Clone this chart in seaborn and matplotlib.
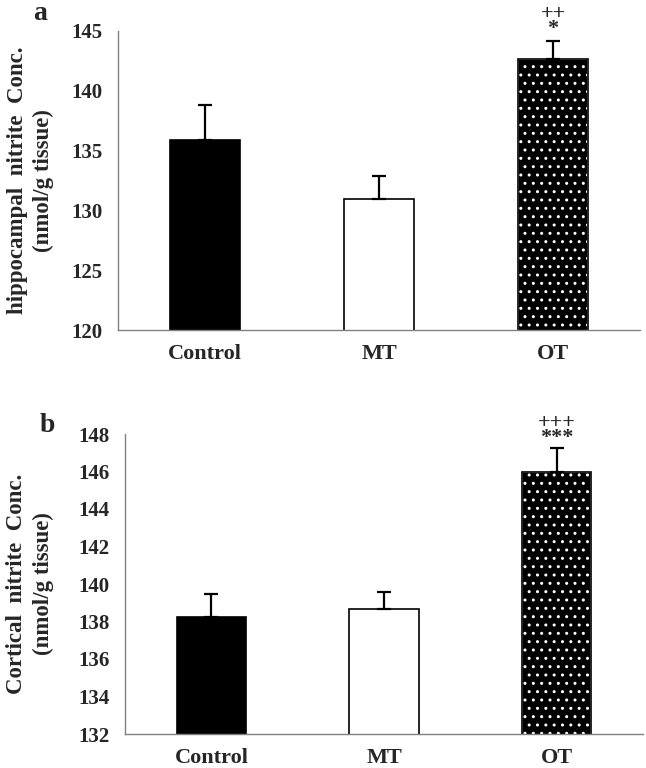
import matplotlib
matplotlib.use("Agg")
import matplotlib.pyplot as plt
import seaborn as sns

# Data
groups = ["Control", "MT", "OT"]

hippo_means = [135.85, 130.95, 142.65]
hippo_sem = [3.0, 1.9, 1.5]
hippo_marks = "++\n*"

cortex_means = [138.25, 138.65, 145.95]
cortex_sem = [1.2, 0.9, 1.3]
cortex_marks = "+++\n***"

sns.set_style("white")
plt.rcParams["font.family"] = ["Liberation Serif", "DejaVu Serif"]
plt.rcParams["font.weight"] = "bold"
plt.rcParams["hatch.linewidth"] = 1.0

GRAY = "#808080"


def draw_panel(ax, means, sem, ylim, yticks, ylabel, marks, mark_px):
    sns.barplot(x=groups, y=means, hue=groups, palette=["black", "white", "black"],
                legend=False, edgecolor="black", linewidth=1.2, width=0.4, ax=ax)
    # dotted fill for OT bar
    p = ax.patches[2]
    p.set_hatch("..")
    p.set_edgecolor("white")
    ax.add_patch(plt.Rectangle((p.get_x(), p.get_y()), p.get_width(), p.get_height(),
                               fill=False, edgecolor="black", lw=1.2, zorder=p.get_zorder() + 0.1))
    ax.errorbar(range(len(groups)), means, yerr=[[0] * len(sem), sem], fmt="none",
                ecolor="black", elinewidth=1.6, capsize=5, capthick=1.6, zorder=5)

    top = means[2] + sem[2]
    ax.annotate(marks, xy=(2, top), xytext=(0, mark_px), textcoords="offset pixels",
                ha="center", va="bottom", fontsize=16, fontweight="bold",
                linespacing=0.7, annotation_clip=False)

    ax.set_xlim(-0.5, 2.5)
    ax.set_ylim(*ylim)
    ax.set_yticks(yticks)
    ax.set_ylabel(ylabel, fontsize=16.5, fontweight="bold", linespacing=1.3)
    ax.set_xlabel("")
    ax.set_xticks([0.5, 1.5, 2.5], minor=True)
    ax.tick_params(axis="x", which="major", length=0, pad=10, labelsize=16)
    ax.tick_params(axis="x", which="minor", length=5, color=GRAY, direction="out")
    ax.tick_params(axis="y", length=5, color=GRAY, direction="out", pad=6, labelsize=15)
    for lab in ax.get_xticklabels() + ax.get_yticklabels():
        lab.set_fontweight("bold")
    sns.despine(ax=ax)
    for s in ("left", "bottom"):
        ax.spines[s].set_color(GRAY)
        ax.spines[s].set_linewidth(1.0)


fig = plt.figure(figsize=(6.46, 7.68), dpi=100)
W, H = 646, 768

ax1 = fig.add_axes([118 / W, 1 - 330 / H, (640 - 118) / W, (330 - 31) / H])
draw_panel(ax1, hippo_means, hippo_sem, (120, 145), range(120, 146, 5),
           "hippocampal  nitrite  Conc.\n(nmol/g tissue)", hippo_marks, 2)
ax1.yaxis.set_label_coords(-0.123, 0.5)

ax2 = fig.add_axes([125 / W, 1 - 734 / H, (643 - 125) / W, (734 - 434) / H])
draw_panel(ax2, cortex_means, cortex_sem, (132, 148), range(132, 149, 2),
           "Cortical  nitrite  Conc.\n(nmol/g tissue)", cortex_marks, 0)
ax2.yaxis.set_label_coords(-0.138, 0.5)

fig.text(40 / W, 1 - 14 / H, "a", ha="center", va="center", fontsize=20, fontweight="bold")
fig.text(47 / W, 1 - 425 / H, "b", ha="center", va="center", fontsize=20, fontweight="bold")

fig.savefig("out.png", dpi=100)
